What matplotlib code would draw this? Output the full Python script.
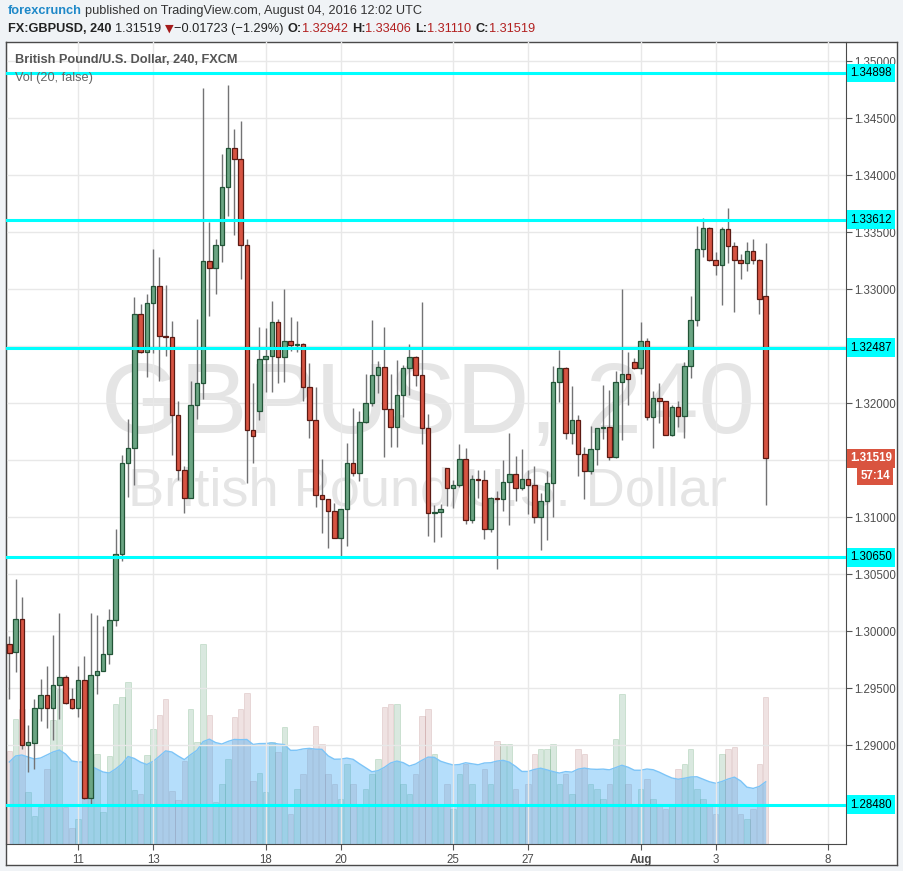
import matplotlib
matplotlib.use("Agg")
import matplotlib.pyplot as plt
import matplotlib.transforms as mtransforms
import numpy as np
import pandas as pd

# ---------------- data ----------------
opens = [1.2989, 1.2982, 1.3011, 1.2900, 1.2902, 1.2933, 1.2944, 1.2933, 1.2953, 1.2960,
         1.2941, 1.2933, 1.2957, 1.2854, 1.2962, 1.2965, 1.2980, 1.3010, 1.3068, 1.3148,
         1.3161, 1.3278, 1.3245, 1.3288, 1.3303, 1.3259, 1.3258, 1.3190, 1.3142, 1.3117,
         1.3199, 1.3218, 1.3325, 1.3319, 1.3339, 1.3390, 1.3424, 1.3414, 1.3339, 1.3177,
         1.3193, 1.3239, 1.3242, 1.3271, 1.3241, 1.3255, 1.3251, 1.3252, 1.3214, 1.3185,
         1.3120, 1.3116, 1.3106, 1.3082, 1.3107, 1.3148, 1.3139, 1.3184, 1.3200, 1.3225,
         1.3232, 1.3195, 1.3179, 1.3207, 1.3231, 1.3241, 1.3225, 1.3178, 1.3104, 1.3105,
         1.3143, 1.3126, 1.3128, 1.3151, 1.3098, 1.3134, 1.3133, 1.3090, 1.3117, 1.3116,
         1.3131, 1.3138, 1.3126, 1.3134, 1.3128, 1.3100, 1.3114, 1.3130, 1.3219, 1.3231,
         1.3174, 1.3185, 1.3156, 1.3141, 1.3160, 1.3178, 1.3179, 1.3153, 1.3219, 1.3226,
         1.3236, 1.3231, 1.3255, 1.3188, 1.3205, 1.3202, 1.3172, 1.3197, 1.3189, 1.3233,
         1.3273, 1.3335, 1.3354, 1.3326, 1.3321, 1.3353, 1.3338, 1.3326, 1.3323, 1.3334,
         1.3326, 1.32942]
highs = [1.2996, 1.3046, 1.3030, 1.2918, 1.2941, 1.2958, 1.2970, 1.2997, 1.3016, 1.2962,
         1.2950, 1.2970, 1.2978, 1.3016, 1.3014, 1.3005, 1.3020, 1.3090, 1.3155, 1.3186,
         1.3293, 1.3287, 1.3296, 1.3335, 1.3328, 1.3304, 1.3272, 1.3202, 1.3145, 1.3220,
         1.3274, 1.3477, 1.3359, 1.3344, 1.3419, 1.3479, 1.3441, 1.3448, 1.3344, 1.3218,
         1.3267, 1.3266, 1.3290, 1.3274, 1.3300, 1.3276, 1.3272, 1.3253, 1.3235, 1.3214,
         1.3151, 1.3116, 1.3113, 1.3107, 1.3165, 1.3196, 1.3193, 1.3226, 1.3273, 1.3237,
         1.3267, 1.3226, 1.3238, 1.3234, 1.3252, 1.3242, 1.3289, 1.3191, 1.3111, 1.3112,
         1.3143, 1.3133, 1.3164, 1.3161, 1.3137, 1.3142, 1.3142, 1.3118, 1.3123, 1.3150,
         1.3174, 1.3154, 1.3160, 1.3142, 1.3145, 1.3121, 1.3141, 1.3233, 1.3247, 1.3232,
         1.3215, 1.3190, 1.3162, 1.3180, 1.3178, 1.3216, 1.3212, 1.3228, 1.3300, 1.3245,
         1.3240, 1.3271, 1.3257, 1.3211, 1.3218, 1.3202, 1.3199, 1.3202, 1.3236, 1.3294,
         1.3356, 1.3363, 1.3355, 1.3333, 1.3355, 1.3371, 1.3342, 1.3331, 1.3342, 1.3344,
         1.3327, 1.33406]
lows = [1.2941, 1.2964, 1.2897, 1.2877, 1.2879, 1.2921, 1.2915, 1.2905, 1.2923, 1.2936,
        1.2932, 1.2925, 1.2853, 1.2849, 1.2945, 1.2971, 1.2971, 1.3005, 1.3062, 1.3118,
        1.3128, 1.3244, 1.3223, 1.3244, 1.3220, 1.3242, 1.3155, 1.3133, 1.3104, 1.3117,
        1.3186, 1.3204, 1.3277, 1.3296, 1.3324, 1.3364, 1.3348, 1.3309, 1.3130, 1.3148,
        1.3185, 1.3210, 1.3210, 1.3218, 1.3219, 1.3246, 1.3245, 1.3202, 1.3170, 1.3109,
        1.3086, 1.3073, 1.3082, 1.3066, 1.3075, 1.3136, 1.3132, 1.3183, 1.3198, 1.3209,
        1.3153, 1.3162, 1.3162, 1.3188, 1.3207, 1.3215, 1.3164, 1.3084, 1.3078, 1.3083,
        1.3110, 1.3108, 1.3127, 1.3094, 1.3095, 1.3117, 1.3081, 1.3087, 1.3055, 1.3106,
        1.3093, 1.3114, 1.3124, 1.3103, 1.3095, 1.3071, 1.3080, 1.3100, 1.3201, 1.3169,
        1.3164, 1.3136, 1.3116, 1.3138, 1.3146, 1.3169, 1.3150, 1.3152, 1.3168, 1.3199,
        1.3230, 1.3226, 1.3185, 1.3161, 1.3183, 1.3172, 1.3171, 1.3179, 1.3170, 1.3222,
        1.3268, 1.3328, 1.3325, 1.3313, 1.3286, 1.3323, 1.3280, 1.3309, 1.3316, 1.3322,
        1.3278, 1.31110]
closes = [1.2981, 1.3011, 1.2900, 1.2903, 1.2933, 1.2944, 1.2933, 1.2953, 1.2960, 1.2937,
          1.2933, 1.2957, 1.2854, 1.2962, 1.2965, 1.2980, 1.3010, 1.3068, 1.3148, 1.3161,
          1.3278, 1.3245, 1.3288, 1.3303, 1.3259, 1.3258, 1.3190, 1.3142, 1.3117, 1.3199,
          1.3218, 1.3325, 1.3319, 1.3339, 1.3390, 1.3424, 1.3414, 1.3339, 1.3177, 1.3171,
          1.3239, 1.3242, 1.3271, 1.3241, 1.3255, 1.3251, 1.3252, 1.3214, 1.3185, 1.3120,
          1.3116, 1.3106, 1.3082, 1.3107, 1.3148, 1.3139, 1.3184, 1.3200, 1.3225, 1.3232,
          1.3195, 1.3179, 1.3207, 1.3231, 1.3241, 1.3225, 1.3178, 1.3104, 1.3105, 1.3107,
          1.3126, 1.3128, 1.3151, 1.3098, 1.3134, 1.3133, 1.3090, 1.3117, 1.3116, 1.3131,
          1.3138, 1.3126, 1.3134, 1.3128, 1.3100, 1.3114, 1.3130, 1.3219, 1.3231, 1.3174,
          1.3185, 1.3156, 1.3141, 1.3160, 1.3178, 1.3179, 1.3153, 1.3219, 1.3226, 1.3221,
          1.3231, 1.3255, 1.3188, 1.3205, 1.3202, 1.3172, 1.3197, 1.3189, 1.3233, 1.3273,
          1.3335, 1.3354, 1.3326, 1.3321, 1.3353, 1.3338, 1.3326, 1.3323, 1.3334, 1.3326,
          1.3292, 1.31519]
volumes = [93, 125, 135, 52, 28, 37, 75, 124, 155, 37,
           16, 25, 79, 110, 90, 32, 88, 140, 147, 162,
           54, 50, 89, 115, 129, 145, 53, 44, 83, 135,
           102, 200, 129, 42, 60, 85, 127, 135, 151, 63,
           71, 52, 102, 92, 117, 30, 55, 70, 95, 118,
           100, 70, 60, 45, 80, 60, 40, 55, 70, 85,
           137, 140, 140, 60, 50, 70, 128, 135, 90, 40,
           60, 35, 70, 80, 60, 40, 75, 60, 103, 100,
           100, 55, 40, 60, 90, 95, 95, 100, 60, 70,
           50, 95, 90, 60, 55, 45, 60, 105, 150, 60,
           40, 55, 65, 45, 40, 35, 40, 75, 80, 95,
           55, 45, 40, 30, 90, 95, 97, 30, 25, 35,
           80, 147]
# Vol MA(20) as read for the first bars (history before the chart start is not shown)
vol_ma_early = [82, 88, 89, 87, 85, 86, 89, 92, 94, 90, 83, 82, 82, 78, 75, 72, 71, 75, 80]

day_tick_index = [11, 23, 41, 53, 71, 83, 101, 113, 131]
day_tick_labels = ["11", "13", "18", "20", "25", "27", "Aug", "3", "8"]
price_ticks = [1.290, 1.295, 1.300, 1.305, 1.310, 1.315, 1.320, 1.325, 1.330, 1.335, 1.340, 1.345, 1.350]
hidden_tick_labels = [1.315, 1.325]   # covered by the level / price boxes
levels = [1.34898, 1.33612, 1.32487, 1.30650, 1.28480]
last_price = 1.31519
countdown = "57:14"

# ---------------- style ----------------
UP_FILL, UP_EDGE = "#6ba583", "#225437"
DN_FILL, DN_EDGE = "#d75442", "#5b1a13"
WICK = "#737375"
CYAN = "#00ffff"
GRID = "#e8e8e8"
BG = "#f0f3f6"
FONT = ["Liberation Sans", "DejaVu Sans"]
plt.rcParams["font.family"] = FONT

W, H = 904, 871
fig = plt.figure(figsize=(W / 100, H / 100), dpi=100, facecolor=BG)

def fx(px):
    return px / W

def fy(py):
    return 1 - py / H

# white panel
panel = fig.add_axes([fx(6), fy(865), fx(897 - 6), (865 - 42) / H])
panel.set_xlim(0, 1); panel.set_ylim(0, 1)
panel.set_xticks([]); panel.set_yticks([])
panel.set_facecolor("white")
for s in panel.spines.values():
    s.set_color("#4a4a4a"); s.set_linewidth(1.0)
panel.set_zorder(0)

rect = [fx(6), fy(844), fx(846 - 6), (844 - 42) / H]
xlim = (-0.53, 133.85)
ylim = (1.28135, 1.3517)

# volume axes (behind)
axv = fig.add_axes(rect)
axv.set_zorder(1)
axv.patch.set_alpha(0)
axv.set_xlim(*xlim)
axv.set_ylim(0, 802)
axv.axis("off")

n = len(opens)
idx = np.arange(n)
o = np.array(opens); c = np.array(closes); hi = np.array(highs); lo = np.array(lows)
vol = np.array(volumes, dtype=float)
up = c >= o

axv.bar(idx[up], vol[up], width=0.9, color=UP_FILL, alpha=0.25, edgecolor="#4f9b5f",
        linewidth=0.6, zorder=2)
axv.bar(idx[~up], vol[~up], width=0.9, color="#b07070", alpha=0.2, edgecolor="#a05a5a",
        linewidth=0.6, zorder=2)
vma = pd.Series(vol).rolling(20).mean().to_numpy()
vma[:len(vol_ma_early)] = vol_ma_early
axv.fill_between(idx, 0, vma, color="#3daaf5", alpha=0.38, linewidth=0, zorder=3)
axv.plot(idx, vma, color="#7cc4f7", lw=1.0, zorder=4)

# main price axes
ax = fig.add_axes(rect)
ax.set_zorder(2)
ax.patch.set_alpha(0)
ax.set_xlim(*xlim)
ax.set_ylim(*ylim)

# watermark
ax.text(0.502, 0.545, "GBPUSD, 240", transform=ax.transAxes, ha="center", va="center",
        fontsize=73, color="#e5e5e5", zorder=0)
ax.text(0.502, 0.440, "British Pound/U.S. Dollar", transform=ax.transAxes, ha="center",
        va="center", fontsize=39, color="#e5e5e5", zorder=0)

# grid
ax.set_yticks(price_ticks)
ax.set_xticks(day_tick_index)
ax.grid(True, color=GRID, lw=1.0, zorder=0.5)
ax.set_axisbelow(True)

# candles
ax.vlines(idx, lo, hi, color=WICK, lw=1.0, zorder=3)
body_lo = np.minimum(o, c)
body_h = np.maximum(np.abs(c - o), 0.00003)
ax.bar(idx[up], body_h[up], bottom=body_lo[up], width=0.74, color=UP_FILL,
       edgecolor=UP_EDGE, linewidth=0.9, zorder=4)
ax.bar(idx[~up], body_h[~up], bottom=body_lo[~up], width=0.74, color=DN_FILL,
       edgecolor=DN_EDGE, linewidth=0.9, zorder=4)

# horizontal levels
for lv in levels:
    ax.axhline(lv, color=CYAN, lw=2.2, zorder=5)

# axes styling
ax.spines["top"].set_visible(False)
for side in ["right", "bottom", "left"]:
    ax.spines[side].set_color("#4a4a4a")
ax.yaxis.tick_right()
ax.tick_params(axis="y", which="both", direction="out", length=4, color="#555555",
               labelsize=8.3, labelcolor="#4d4d4d", pad=2, left=False)
ax.tick_params(axis="x", direction="out", length=4, color="#555555", labelsize=8.3,
               labelcolor="#4d4d4d", pad=3)
ax.set_yticklabels(["" if any(abs(p - h) < 1e-9 for h in hidden_tick_labels)
                    else f"{p:.5f}" for p in price_ticks])
ax.set_xticklabels(day_tick_labels)
for lab in ax.get_xticklabels():
    if lab.get_text() == "Aug":
        lab.set_fontweight("bold")

trans = mtransforms.blended_transform_factory(ax.transAxes, ax.transData)
for lv in levels:
    ax.annotate(f"{lv:.5f}", xy=(1.0, lv), xycoords=trans, xytext=(4, 0),
                textcoords="offset pixels", ha="left", va="center", fontsize=8.3,
                color="black", zorder=10, annotation_clip=False,
                bbox=dict(boxstyle="square,pad=0.3", fc=CYAN, ec="none"))
ax.annotate(f"{last_price:.5f}", xy=(1.0, last_price), xycoords=trans, xytext=(4, 0),
            textcoords="offset pixels", ha="left", va="center", fontsize=8.3,
            color="white", fontweight="bold", zorder=10, annotation_clip=False,
            bbox=dict(boxstyle="square,pad=0.3", fc="#d9543f", ec="none"))
ax.annotate(countdown, xy=(1.0, last_price), xycoords=trans, xytext=(44, -18),
            textcoords="offset pixels", ha="right", va="center", fontsize=8.3,
            color="white", fontweight="bold", zorder=10, annotation_clip=False,
            bbox=dict(boxstyle="square,pad=0.25", fc="#d9543f", ec="none"))

# legend texts inside panel
fig.text(fx(15), fy(60), "British Pound/U.S. Dollar, 240, FXCM", fontsize=9.2,
         fontweight="bold", color="#555555", va="center", ha="left", zorder=20)
fig.text(fx(15), fy(78), "Vol (20, false)", fontsize=9.2, color="#666666",
         va="center", ha="left", zorder=20)

# header with multi-colour pieces
renderer = fig.canvas.get_renderer()

def seq(x0, y0, pieces):
    x = x0
    for txt, kw, gap in pieces:
        t = fig.text(fx(x), fy(y0), txt, va="center", ha="left", **kw)
        bb = t.get_window_extent(renderer)
        x += bb.width + gap

RED = "#b21f1f"
DARK = "#222222"
hdr_fs = 9.15
pieces1 = [("forexcrunch", dict(color="#1e88c8", fontsize=hdr_fs, fontweight="bold"), 3),
           ("published on TradingView.com, August 04, 2016 12:02 UTC",
            dict(color="#333333", fontsize=hdr_fs), 0)]
seq(8, 11, pieces1)

pieces2 = [("FX:GBPUSD, 240", dict(color=DARK, fontsize=hdr_fs, fontweight="bold"), 4),
           ("1.31519", dict(color=DARK, fontsize=hdr_fs), 3),
           ("\u25BC", dict(color="#a51b1b", fontsize=hdr_fs - 1, family=["DejaVu Sans"]), 1),
           ("\u22120.01723 (\u22121.29%)", dict(color=DARK, fontsize=hdr_fs), 4),
           ("O:", dict(color=DARK, fontsize=hdr_fs, fontweight="bold"), 0),
           ("1.32942", dict(color=RED, fontsize=hdr_fs), 4),
           ("H:", dict(color=DARK, fontsize=hdr_fs, fontweight="bold"), 0),
           ("1.33406", dict(color=RED, fontsize=hdr_fs), 4),
           ("L:", dict(color=DARK, fontsize=hdr_fs, fontweight="bold"), 0),
           ("1.31110", dict(color=RED, fontsize=hdr_fs), 4),
           ("C:", dict(color=DARK, fontsize=hdr_fs, fontweight="bold"), 0),
           ("1.31519", dict(color=RED, fontsize=hdr_fs), 0)]
seq(8, 29, pieces2)

fig.savefig("out.png", dpi=100, facecolor=BG)
